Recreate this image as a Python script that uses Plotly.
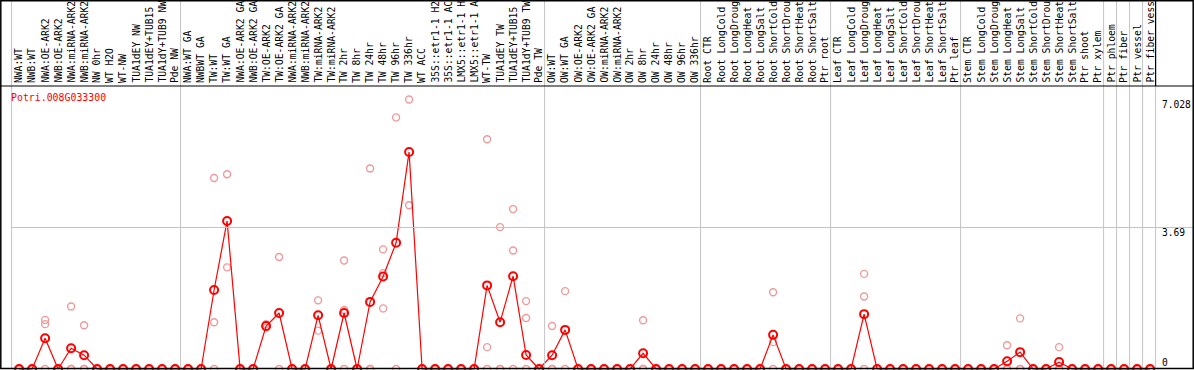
import plotly.graph_objects as go

# ---------------- data ----------------
GENE = "Potri.008G033300"

LABELS_NW = ["NWA:WT", "NWB:WT", "NWA:OE-ARK2", "NWB:OE-ARK2", "NWA:miRNA-ARK2",
             "NWB:miRNA-ARK2", "NW 0hr", "WT H2O", "WT-NW", "TUA1dEY NW",
             "TUA1dEY+TUB15", "TUA1dY+TUB9 NW", "Pde NW"]
LABELS_TW = ["NWA:WT GA", "NWBWT GA", "TW:WT", "TW:WT GA", "NWA:OE-ARK2 GA",
             "NWB:OE-ARK2 GA", "TW:OE-ARK2", "TW:OE-ARK2 GA", "NWA:miRNA-ARK2",
             "NWB:miRNA-ARK2", "TW:miRNA-ARK2", "TW:miRNA-ARK2", "TW 2hr", "TW 8hr",
             "TW 24hr", "TW 48hr", "TW 96hr", "TW 336hr", "WT ACC", "35S::etr1-1 H2",
             "35S::etr1-1 AC", "LMX5::etr1-1 H", "LMX5::etr1-1 A", "WT-TW",
             "TUA1dEY TW", "TUA1dEY+TUB15", "TUA1dY+TUB9 TW", "Pde TW"]
LABELS_OW = ["OW:WT", "OW:WT GA", "OW:OE-ARK2", "OW:OE-ARK2 GA", "OW:miRNA-ARK2",
             "OW:miRNA-ARK2", "OW 2hr", "OW 8hr", "OW 24hr", "OW 48hr", "OW 96hr",
             "OW 336hr"]
LABELS_ROOT = ["Root CTR", "Root LongCold", "Root LongDroug", "Root LongHeat",
               "Root LongSalt", "Root ShortCold", "Root ShortDrou", "Root ShortHeat",
               "Root ShortSalt", "Ptr root"]
LABELS_LEAF = ["Leaf CTR", "Leaf LongCold", "Leaf LongDroug", "Leaf LongHeat",
               "Leaf LongSalt", "Leaf ShortCold", "Leaf ShortDrou", "Leaf ShortHeat",
               "Leaf ShortSalt", "Ptr leaf"]
LABELS_STEM = ["Stem CTR", "Stem LongCold", "Stem LongDroug", "Stem LongHeat",
               "Stem LongSalt", "Stem ShortCold", "Stem ShortDrou", "Stem ShortHeat",
               "Stem ShortSalt", "Ptr shoot", "Ptr xylem"]
LABELS_PTR = ["Ptr phloem", "Ptr fiber", "Ptr vessel", "Ptr fiber vess"]

MEAN_NW = [0, 0, 0.80, 0, 0.54, 0.36, 0, 0, 0, 0, 0, 0, 0]
MEAN_TW = [0, 0, 2.06, 3.86, 0, 0, 1.12, 1.46, 0, 0, 1.40, 0, 1.46, 0, 1.75, 2.41,
           3.29, 5.66, 0, 0, 0, 0, 0, 2.18, 1.22, 2.42, 0.365, 0]
MEAN_OW = [0.36, 1.02, 0, 0, 0, 0, 0, 0.41, 0, 0, 0, 0]
MEAN_ROOT = [0, 0, 0, 0, 0, 0.89, 0, 0, 0, 0]
MEAN_LEAF = [0, 0, 1.43, 0, 0, 0, 0, 0, 0, 0]
MEAN_STEM = [0, 0, 0, 0.20, 0.44, 0, 0, 0.18, 0, 0, 0]
MEAN_PTR = [0, 0, 0, 0]

Z = [0, 0, 0]
REP_NW = [Z, Z, [1.28, 1.17, 0], Z, [1.63, 0, 0], [1.14, 0, 0], Z, Z, Z, Z, Z, Z, Z]
REP_TW = [Z, Z, [4.98, 1.22, 0], [5.08, 2.65], Z, Z, [1.17, 1.08], [2.92, 0], Z, Z,
          [1.79, 1.00], Z, [2.83, 1.54, 0], Z, [5.23, 0, 0], [3.12, 2.50, 1.58],
          [6.56, 0], [7.028, 4.27], Z, Z, Z, Z, Z, [5.99, 0.57, 0], [3.70, 0, 0],
          [4.17, 3.09, 0], [1.77, 1.33, 0], Z]
REP_OW = [[1.12, 0, 0], [2.03, 0], Z, Z, Z, Z, Z, [1.27, 0, 0], Z, Z, Z, Z]
REP_ROOT = [Z, Z, Z, Z, Z, [2.00, 0.70, 0], Z, Z, Z, Z]
REP_LEAF = [Z, Z, [2.48, 1.89, 0], Z, Z, Z, Z, Z, Z, Z]
REP_STEM = [Z, Z, Z, [0.62, 0, 0], [1.32, 0, 0], Z, Z, [0.57, 0, 0], Z, Z, Z]
REP_PTR = [Z, Z, Z, Z]

Y_TICKS = [7.028, 3.69, 0]
GRID_VALUE = 3.69

# ---------------- assemble ----------------
groups_labels = [LABELS_NW, LABELS_TW, LABELS_OW, LABELS_ROOT, LABELS_LEAF, LABELS_STEM]
labels = sum(groups_labels, []) + LABELS_PTR
means = MEAN_NW + MEAN_TW + MEAN_OW + MEAN_ROOT + MEAN_LEAF + MEAN_STEM + MEAN_PTR
reps = REP_NW + REP_TW + REP_OW + REP_ROOT + REP_LEAF + REP_STEM + REP_PTR
n = len(labels)
xs = list(range(n))

rep_x, rep_y = [], []
for i, r in enumerate(reps):
    for v in r:
        rep_x.append(i)
        rep_y.append(v)

# group boundaries (each Ptr tissue column is its own group)
bounds = [0]
for g in groups_labels:
    bounds.append(bounds[-1] + len(g))
for _ in LABELS_PTR:
    bounds.append(bounds[-1] + 1)

# ---------------- geometry ----------------
W, H = 1194, 370
HEADER = 86          # header height, px
BOTTOM = 369         # pixel of value 0
COL_W = 13.0         # px per column
X0_PX = 19.1         # pixel centre of first column
B_OFF = -7.5 / COL_W  # boundary offset (in columns) from column centre
x_range = [(0 - X0_PX) / COL_W, (W - X0_PX) / COL_W]

ymax = max(max(rep_y), max(means)) * 1.05
per_px = ymax / (BOTTOM - HEADER)
y_top = ymax + HEADER * per_px
y_range = [y_top - H * per_px, y_top]

def py(p):  # pixel -> paper y
    return 1 - p / H

def px(p):  # pixel -> paper x
    return p / W

FONT = "DejaVu Sans Mono"
GRAY = "#c4c4c4"
RED = "#ff0000"
PINK = "#ee9a9a"

fig = go.Figure()
fig.add_trace(go.Scatter(
    x=rep_x, y=rep_y, mode="markers",
    marker=dict(symbol="circle-open", size=7, color=PINK, line=dict(width=1.4, color=PINK)),
    hoverinfo="skip", showlegend=False, cliponaxis=False))
fig.add_trace(go.Scatter(
    x=xs, y=means, mode="lines+markers",
    line=dict(color=RED, width=1.2),
    marker=dict(symbol="circle-open", size=8, color=RED, line=dict(width=2, color=RED)),
    showlegend=False, cliponaxis=False))

shapes = []
# vertical group lines
for b in bounds:
    shapes.append(dict(type="line", xref="x", yref="paper", x0=b + B_OFF, x1=b + B_OFF,
                       y0=py(BOTTOM), y1=1, line=dict(color=GRAY, width=1)))
# horizontal grid at GRID_VALUE
shapes.append(dict(type="line", xref="x", yref="y", x0=bounds[0] + B_OFF, x1=x_range[1],
                   y0=GRID_VALUE, y1=GRID_VALUE, line=dict(color=GRAY, width=1)))
# header bottom line
shapes.append(dict(type="line", xref="paper", yref="paper", x0=0, x1=1,
                   y0=py(HEADER), y1=py(HEADER), line=dict(color="black", width=1.2)))
# header right edge
xr = bounds[-1] + B_OFF
shapes.append(dict(type="line", xref="x", yref="paper", x0=xr, x1=xr,
                   y0=py(HEADER), y1=1, line=dict(color="black", width=1.2)))
# outer frame
shapes.append(dict(type="rect", xref="paper", yref="paper", x0=px(0.8), x1=px(W - 0.8),
                   y0=py(H - 1.5), y1=py(0.8), line=dict(color="black", width=1.5)))

annotations = []
for i, lab in enumerate(labels):
    annotations.append(dict(x=i, xref="x", y=py(HEADER - 1), yref="paper", text=lab,
                            textangle=-90, xanchor="center", yanchor="bottom",
                            showarrow=False, xshift=-0.5,
                            font=dict(family=FONT, size=9.7, color="black")))
annotations.append(dict(x=px(9), xref="paper", y=py(97), yref="paper", text=GENE,
                        xanchor="left", yanchor="middle", showarrow=False,
                        font=dict(family=FONT, size=9.9, color=RED)))
for v in Y_TICKS:
    annotations.append(dict(x=px(1160), xref="paper", y=v, yref="y", text=f"{v:g}",
                            xanchor="left", yanchor="bottom" if v == 0 else "top",
                            showarrow=False, yshift=-1 if v == 0 else 2,
                            font=dict(family=FONT, size=9.6, color="black")))

fig.update_layout(
    width=W, height=H, margin=dict(l=0, r=0, t=0, b=0, pad=0),
    paper_bgcolor="white", plot_bgcolor="white",
    xaxis=dict(range=x_range, visible=False, showgrid=False, zeroline=False),
    yaxis=dict(range=y_range, visible=False, showgrid=False, zeroline=False),
    shapes=shapes, annotations=annotations, showlegend=False,
)
fig.write_html(
    "out.html",
    config={"displayModeBar": False},
    post_script="document.body.style.margin='0';document.body.style.overflow='hidden';",
)
